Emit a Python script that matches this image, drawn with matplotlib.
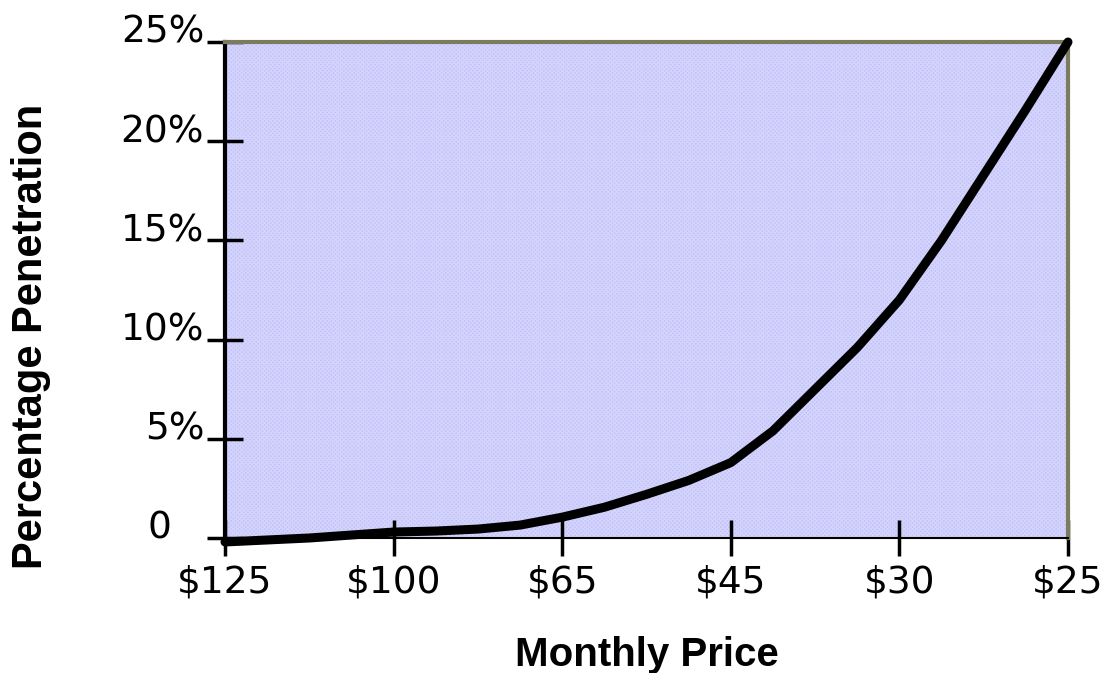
# penetration vs. monthly price curve

import matplotlib.pyplot as plt
import matplotlib.transforms as mtransforms
from matplotlib.patches import Rectangle

# price labels on the x axis
price_labels = ['$125', '$100', '$65', '$45', '$30', '$25']
# curve sampled every quarter step between the price ticks
curve_pos = [0, 0.25, 0.5, 0.75, 1, 1.25, 1.5, 1.75, 2, 2.25, 2.5,
             2.75, 3, 3.25, 3.5, 3.75, 4, 4.25, 4.5, 4.75, 5]
penetration = [-0.2, -0.1, 0.0, 0.15, 0.3, 0.35, 0.45, 0.65, 1.05, 1.55, 2.2,
               2.9, 3.8, 5.4, 7.5, 9.6, 12.0, 15.0, 18.3, 21.6, 25.0]
y_ticks = [0, 5, 10, 15, 20, 25]
y_labels = ['0', '5%', '10%', '15%', '20%', '25%']

plt.rcParams['font.family'] = ['Liberation Sans', 'DejaVu Sans']

fig = plt.figure(figsize=(11.04, 6.73), dpi=100)
ax = fig.add_axes([0.2038, 0.2006, 0.7636, 0.737])

# lavender plot area with a fine white screen on top
ax.set_facecolor('#c0c0fa')
ax.add_patch(Rectangle((0, 0), 1, 1, transform=ax.transAxes, facecolor='none',
                       edgecolor='white', hatch='xxxxxxxx', linewidth=0, alpha=0.3, zorder=0.5))

ax.plot(curve_pos, penetration, color='black', linewidth=6.5,
        solid_capstyle='round', solid_joinstyle='round', clip_on=False, zorder=5)

ax.set_xlim(0, 5)
ax.set_ylim(0, 25)
ax.set_xticks(range(len(price_labels)))
ax.set_xticklabels(price_labels, fontsize=27, family='DejaVu Sans')
ax.set_yticks(y_ticks)
ax.set_yticklabels(y_labels, fontsize=27, family='DejaVu Sans')
ax.tick_params(axis='both', direction='inout', length=26, width=2.5, color='black')
ax.tick_params(axis='x', pad=6)
ax.tick_params(axis='y', pad=2)

# y labels sit a bit above their ticks; the "0" is set further left
for lab in ax.get_yticklabels():
    dx = -0.33 if lab.get_text() == '0' else 0
    lab.set_transform(lab.get_transform() +
                      mtransforms.ScaledTranslation(dx, 0.13, fig.dpi_scale_trans))

# axis frame
ax.spines['left'].set_color('black')
ax.spines['left'].set_linewidth(3)
ax.spines['bottom'].set_color('black')
ax.spines['bottom'].set_linewidth(1.5)
ax.spines['top'].set_color('#7d7b5f')
ax.spines['top'].set_linewidth(3)
ax.spines['right'].set_color('#7d7b5f')
ax.spines['right'].set_linewidth(3)

ax.set_xlabel('Monthly Price', fontsize=29, fontweight='bold', labelpad=26)
fig.text(0.028, 0.5, 'Percentage Penetration', rotation=90, fontsize=30,
         fontweight='bold', ha='center', va='center')

plt.savefig('out.png', dpi=100)
